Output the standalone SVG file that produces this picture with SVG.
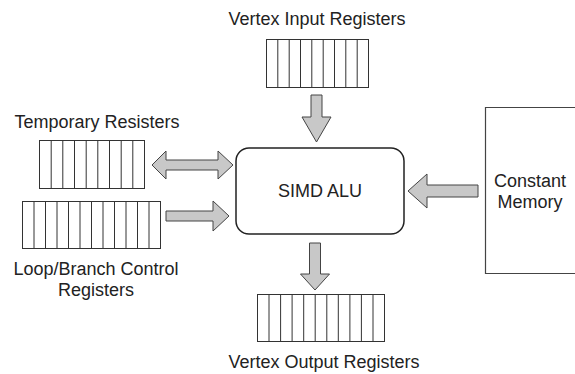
<svg xmlns="http://www.w3.org/2000/svg" width="575" height="374" viewBox="0 0 575 374">
<style>
text{font-family:"Liberation Sans",Arial,sans-serif;font-size:18px;fill:#222;text-anchor:middle}
.reg{fill:#fff;stroke:#333;stroke-width:1}
.cell{stroke:#333;stroke-width:1}
.arr{fill:#c8c8c8;stroke:#444;stroke-width:1;stroke-linejoin:miter}
.box{fill:#fff;stroke:#222;stroke-width:1.5}
</style>
<rect width="575" height="374" fill="#fff"/>
<g id="vertex-input">
<text x="317" y="25">Vertex Input Registers</text>
<rect class="reg" x="266.5" y="39.5" width="102" height="48"/>
<path class="cell" d="M277.8 39.5V87.5M289.2 39.5V87.5M300.5 39.5V87.5M311.8 39.5V87.5M323.2 39.5V87.5M334.5 39.5V87.5M345.8 39.5V87.5M357.2 39.5V87.5"/>
</g>
<g id="temporary">
<text x="97" y="128">Temporary Resisters</text>
<rect class="reg" x="39.5" y="140.5" width="105" height="48"/>
<path class="cell" d="M51.2 140.5V188.5M62.8 140.5V188.5M74.5 140.5V188.5M86.2 140.5V188.5M97.8 140.5V188.5M109.5 140.5V188.5M121.2 140.5V188.5M132.8 140.5V188.5"/>
</g>
<g id="loop-branch">
<rect class="reg" x="22.5" y="201.5" width="138" height="47"/>
<path class="cell" d="M34 201.5V248.5M45.5 201.5V248.5M57 201.5V248.5M68.5 201.5V248.5M80 201.5V248.5M91.5 201.5V248.5M103 201.5V248.5M114.5 201.5V248.5M126 201.5V248.5M137.5 201.5V248.5M149 201.5V248.5"/>
<text x="96" y="275">Loop/Branch Control</text>
<text x="96" y="296">Registers</text>
</g>
<g id="simd-alu">
<rect class="box" x="236" y="148" width="168" height="86" rx="13"/>
<text x="320" y="197">SIMD ALU</text>
</g>
<g id="constant-memory">
<path fill="none" stroke="#444" stroke-width="1.2" d="M580 107.5H485.5V273.5H580"/>
<text x="530" y="187">Constant</text>
<text x="530" y="208">Memory</text>
</g>
<g id="vertex-output">
<rect class="reg" x="257.5" y="294.5" width="127" height="47"/>
<path class="cell" d="M269 294.5V341.5M280.6 294.5V341.5M292.1 294.5V341.5M303.7 294.5V341.5M315.2 294.5V341.5M326.8 294.5V341.5M338.3 294.5V341.5M349.9 294.5V341.5M361.4 294.5V341.5M373 294.5V341.5"/>
<text x="324" y="368">Vertex Output Registers</text>
</g>
<g id="connectors">
<path class="arr" d="M311 95H322V117H331L316.5 142L302 117H311Z"/>
<path class="arr" d="M152 165L166 151V160H218V151L233 165L218 179V170H166V179Z"/>
<path class="arr" d="M166 211H213V201L229 216L213 231V221H166Z"/>
<path class="arr" d="M478 185V197H427V208L408 191L427 174V185Z"/>
<path class="arr" d="M309.5 243H320.5V274H329.5L315 290L300.5 274H309.5Z"/>
</g>
</svg>
